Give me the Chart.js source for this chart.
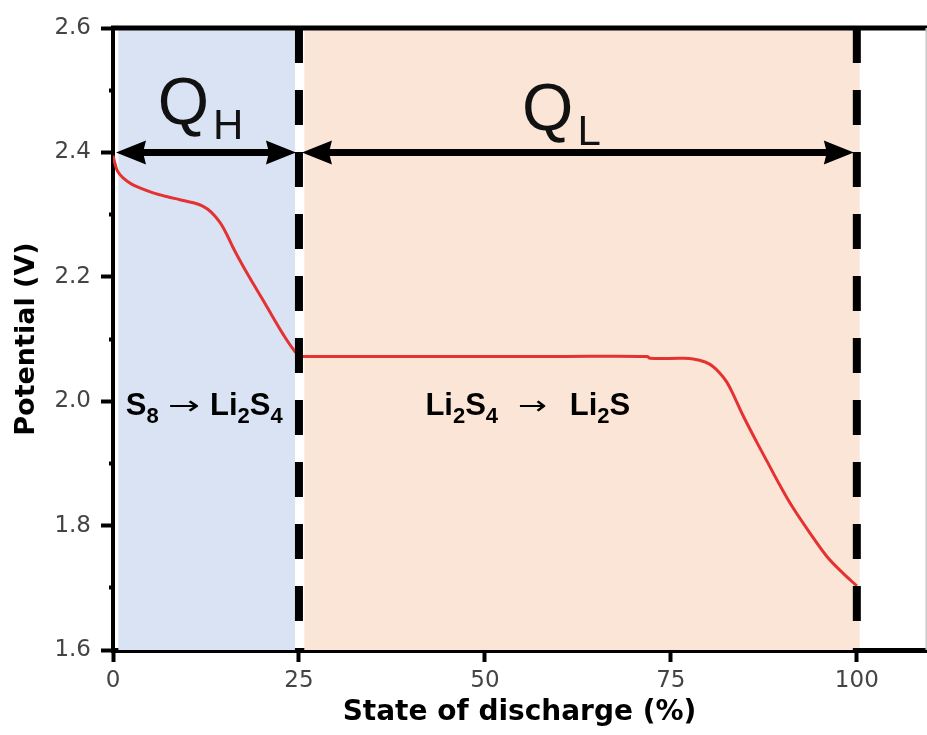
<!DOCTYPE html>
<html><head><meta charset="utf-8">
<script src="https://cdn.jsdelivr.net/npm/chart.js@4.4.1/dist/chart.umd.min.js"></script>
<style>html,body{margin:0;padding:0;background:#fff;}canvas{display:block}</style>
</head><body>
<canvas id="c" width="927" height="735"></canvas>
<script>
// ---- data ----
const stateOfDischarge = [0, 0.27, 0.6, 1.35, 2.5, 3.6, 5.4, 7.2, 9.0, 10.8, 12.0, 13.2, 14.4, 15.3, 16.1, 17.4, 18.8, 20.2, 21.5, 22.9, 24.2, 25.1, 26.5, 30, 40, 50, 60, 71.8, 72.2, 76.5, 78.0, 79.6, 80.7, 81.6, 82.5, 83.3, 84.7, 86.6, 87.9, 89.7, 91.4, 93.7, 96.0, 98.1, 100];
const potential = [2.395, 2.382, 2.370, 2.359, 2.349, 2.343, 2.335, 2.329, 2.324, 2.319, 2.314, 2.304, 2.287, 2.268, 2.248, 2.219, 2.19, 2.162, 2.135, 2.107, 2.084, 2.073, 2.072, 2.072, 2.072, 2.072, 2.072, 2.072, 2.069, 2.069, 2.068, 2.063, 2.0555, 2.045, 2.031, 2.013, 1.977, 1.933, 1.904, 1.864, 1.829, 1.788, 1.750, 1.724, 1.703];
const regionQH = [0.7, 24.5];
const regionQL = [25.7, 100.4];
const boundaries = [25, 100];
const arrowSpans = [[0, 25], [25, 100]];
const arrowLevel = 2.4;
const xTickValues = [0, 25, 50, 75, 100];
const yMajorTicks = [1.6, 1.8, 2.0, 2.2, 2.4, 2.6];
const yMinorTicks = [1.7, 1.9, 2.1, 2.3, 2.5];
const xRange = [0, 109.3];
const yRange = [1.6, 2.6];

// ---- text annotations (segments: [text, isSubscript]) ----
const qLabels = [
  {x: 6.0, y: 2.4457, main: 'Q', sub: 'H'},
  {x: 55.0, y: 2.436, main: 'Q', sub: 'L'}
];
const chemLabels = [
  {x: 1.71, y: 1.978, segs: [['S', 0], ['8', 1]]},
  {x: 13.04, y: 1.978, segs: [['Li', 0], ['2', 1], ['S', 0], ['4', 1]]},
  {x: 42.0, y: 1.978, segs: [['Li', 0], ['2', 1], ['S', 0], ['4', 1]]},
  {x: 61.4, y: 1.978, segs: [['Li', 0], ['2', 1], ['S', 0]]}
];
const reactionArrows = [{x: 9.54, y: 1.978, w: 32}, {x: 56.4, y: 1.978, w: 29}];

const toXY = (xs, ys) => xs.map((v, i) => ({x: v, y: ys[i]}));
const SANS = '"Liberation Sans", Arial, Helvetica, sans-serif';

const annotPlugin = {
  id: 'annot',
  afterDatasetsDraw(chart) {
    const {ctx, chartArea: ca, scales: {x, y}} = chart;
    ctx.save();
    // top frame
    ctx.strokeStyle = '#000';
    ctx.lineWidth = 5;
    ctx.beginPath(); ctx.moveTo(ca.left - 2, ca.top); ctx.lineTo(chart.width, ca.top); ctx.stroke();
    // right frame
    ctx.strokeStyle = '#c8c8c8';
    ctx.lineWidth = 1.5;
    ctx.beginPath(); ctx.moveTo(ca.right + 0.2, ca.top); ctx.lineTo(ca.right + 0.2, ca.bottom); ctx.stroke();

    // double arrows
    ctx.strokeStyle = '#000'; ctx.fillStyle = '#000';
    const head = 30, half = 12;
    arrowSpans.forEach(([a, b]) => {
      const yy = y.getPixelForValue(arrowLevel);
      const x1 = x.getPixelForValue(a) + 3, x2 = x.getPixelForValue(b) - 3;
      ctx.lineWidth = 7; ctx.lineCap = 'butt';
      ctx.beginPath(); ctx.moveTo(x1 + head - 4, yy); ctx.lineTo(x2 - head + 4, yy); ctx.stroke();
      ctx.beginPath(); ctx.moveTo(x1, yy); ctx.lineTo(x1 + head, yy - half); ctx.lineTo(x1 + head - 3, yy); ctx.lineTo(x1 + head, yy + half); ctx.closePath(); ctx.fill();
      ctx.beginPath(); ctx.moveTo(x2, yy); ctx.lineTo(x2 - head, yy - half); ctx.lineTo(x2 - head + 3, yy); ctx.lineTo(x2 - head, yy + half); ctx.closePath(); ctx.fill();
    });

    // Q labels
    ctx.textBaseline = 'alphabetic'; ctx.textAlign = 'left';
    ctx.fillStyle = '#111';
    qLabels.forEach(l => {
      const px = x.getPixelForValue(l.x), py = y.getPixelForValue(l.y);
      ctx.font = '66px ' + SANS;
      ctx.fillText(l.main, px, py);
      const w = ctx.measureText(l.main).width;
      ctx.font = '42px ' + SANS;
      ctx.fillText(l.sub, px + w + 4, py + 15);
    });

    // chemistry labels
    ctx.fillStyle = '#000';
    chemLabels.forEach(l => {
      let px = x.getPixelForValue(l.x);
      const py = y.getPixelForValue(l.y);
      l.segs.forEach(([t, sub]) => {
        ctx.font = sub ? 'bold 22px ' + SANS : 'bold 31px ' + SANS;
        ctx.fillText(t, px, sub ? py + 8 : py);
        px += ctx.measureText(t).width;
      });
    });
    // reaction arrows (text glyph stretched to the reference width)
    ctx.textAlign = 'center';
    ctx.textBaseline = 'middle';
    ctx.font = '30px "DejaVu Sans", sans-serif';
    reactionArrows.forEach(a => {
      const gw = ctx.measureText('\u2192').width || 1;
      ctx.save();
      ctx.translate(x.getPixelForValue(a.x), y.getPixelForValue(a.y) - 8);
      ctx.scale(a.w / gw, 0.85);
      ctx.fillText('\u2192', 0, 0);
      ctx.restore();
    });
    ctx.restore();
  }
};

new Chart(document.getElementById('c'), {
  type: 'line',
  data: {
    datasets: [
      {
        label: 'QH region',
        data: toXY(regionQH, [yRange[1], yRange[1]]),
        fill: 'start', backgroundColor: '#dae3f3', borderWidth: 0, pointRadius: 0, order: 3
      },
      {
        label: 'QL region',
        data: toXY(regionQL, [yRange[1], yRange[1]]),
        fill: 'start', backgroundColor: '#fbe5d6', borderWidth: 0, pointRadius: 0, order: 3
      },
      {
        label: 'Discharge',
        data: toXY(stateOfDischarge, potential),
        borderColor: '#e43232', borderWidth: 3, pointRadius: 0, fill: false,
        tension: 0.35, order: 1
      },
      ...boundaries.map(b => ({
        label: 'boundary ' + b,
        data: toXY([b, b], [yRange[1], yRange[0]]),
        borderColor: '#000', borderWidth: 8, borderDash: [35, 27], borderCapStyle: 'butt',
        pointRadius: 0, fill: false, order: 0
      }))
    ]
  },
  options: {
    responsive: false,
    animation: false,
    devicePixelRatio: 1,
    layout: {padding: {top: 28, right: 1, left: 0, bottom: 0}},
    plugins: {legend: {display: false}, tooltip: {enabled: false}},
    scales: {
      x: {
        type: 'linear', min: xRange[0], max: xRange[1],
        afterBuildTicks: s => { s.ticks = xTickValues.map(v => ({value: v})); },
        afterFit: s => { s.height = 85; },
        ticks: {
          callback: v => String(v),
          font: {family: '"DejaVu Sans", sans-serif', size: 23},
          color: '#444', padding: 5, maxRotation: 0, autoSkip: false
        },
        grid: {drawOnChartArea: false, drawTicks: true, tickLength: 12, tickWidth: 4, tickColor: '#000'},
        border: {display: true, color: '#000', width: 5},
        title: {
          display: true, text: 'State of discharge (%)', color: '#000',
          font: {family: '"DejaVu Sans", sans-serif', size: 28, weight: 'bold'},
          padding: {top: 0, bottom: 5}
        }
      },
      y: {
        type: 'linear', min: yRange[0], max: yRange[1],
        afterBuildTicks: s => { s.ticks = yMajorTicks.concat(yMinorTicks).sort((a, b) => a - b).map(v => ({value: v})); },
        afterFit: s => { s.width = 113; },
        ticks: {
          callback: v => yMajorTicks.some(m => Math.abs(m - v) < 1e-6) ? v.toFixed(1) : '',
          font: {family: '"DejaVu Sans", sans-serif', size: 23},
          color: '#444', padding: 10, autoSkip: false
        },
        grid: {
          drawOnChartArea: false, drawTicks: true, tickLength: 12, tickWidth: 4, tickColor: '#000',
          tickBorderDash: c => (c.tick && yMinorTicks.some(m => Math.abs(m - c.tick.value) < 1e-6)) ? [0, 8, 4, 100] : []
        },
        border: {display: true, color: '#000', width: 4},
        title: {
          display: true, text: 'Potential (V)', color: '#000',
          font: {family: '"DejaVu Sans", sans-serif', size: 27, weight: 'bold'},
          padding: {top: 11, bottom: 0}
        }
      }
    }
  },
  plugins: [annotPlugin]
});
</script>
</body></html>
